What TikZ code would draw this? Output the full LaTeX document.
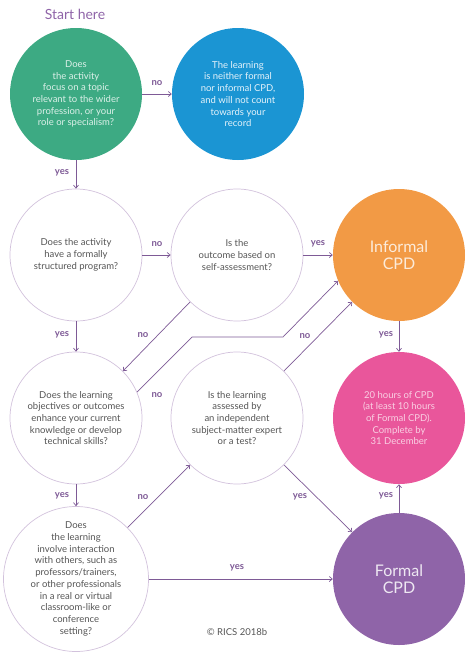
\documentclass[tikz,border=0pt]{standalone}
\usepackage{fontspec}
\setmainfont{Lato}
\usetikzlibrary{arrows.meta}
\definecolor{cgreen}{HTML}{3DAA83}
\definecolor{cblue}{HTML}{1B95D3}
\definecolor{corange}{HTML}{F29A45}
\definecolor{cpink}{HTML}{E9569B}
\definecolor{cpurple}{HTML}{8F64A8}
\definecolor{cline}{HTML}{7E5A96}
\definecolor{cring}{HTML}{D2C2DC}
\definecolor{ctext}{HTML}{555555}
\begin{document}
\begin{tikzpicture}[x=1pt,y=-1pt,
 circ/.style={circle,minimum size=132pt,inner sep=0pt,align=center,font=\fontsize{9.5}{11.7}\selectfont},
 qcirc/.style={circ,draw=cring,line width=0.7pt,text=ctext},
 fcirc/.style={circ,text=white},
 big/.style={font=\fontsize{16}{17.5}\selectfont},
 conn/.style={draw=cline,line width=0.7pt,-{Straight Barb[length=3pt,width=5pt]}},
 lab/.style={text=cline,font=\fontsize{9.5}{10}\selectfont\bfseries}]
\useasboundingbox (0,0) rectangle (474,654);
\node[text=cpurple,font=\fontsize{14}{16}\selectfont] (start) at (75,14) {Start here};
\node[fcirc,fill=cgreen,text=white!82!cgreen] (q1) at (76,94) {Does\\the activity\\focus on a topic\\relevant to the wider\\profession, or your\\role or specialism?};
\node[fcirc,fill=cblue,text=white!88!cblue] (nc) at (238,94) {The learning\\is neither formal\\nor informal CPD,\\and will not count\\towards your\\record};
\node[qcirc] (q2) at (76,255) {Does the activity\\have a formally\\structured program?};
\node[qcirc] (q3) at (237,255) {Is the\\outcome based on\\self-assessment?};
\node[fcirc,fill=corange,big,text=white!80!corange] (inf) at (399,255) {Informal\\CPD};
\node[qcirc] (q4) at (76,418) {Does the learning\\objectives or outcomes\\enhance your current\\knowledge or develop\\technical skills?};
\node[qcirc] (q5) at (237,418) {Is the learning\\assessed by\\an independent\\subject-matter expert\\or a test?};
\node[fcirc,fill=cpink,text=white!72!cpink] (hrs) at (399,418) {20 hours of CPD\\(at least 10 hours\\of Formal CPD).\\Complete by\\31 December};
\node[qcirc] (q6) at (76,579) {Does\\the learning\\involve interaction\\with others, such as\\professors/trainers,\\or other professionals\\in a real or virtual\\classroom-like or\\conference\\setting?};
\node[fcirc,fill=cpurple,big,text=white!85!cpurple] (form) at (399,579) {Formal\\CPD};
\node[text=ctext,font=\fontsize{9.5}{11}\selectfont] (copy) at (237,632) {© RICS 2018b};
\coordinate (b1) at (192,337);
\coordinate (b2) at (283,337);
\draw[conn] (q1) -- (nc);
\draw[conn] (q1) -- (q2);
\draw[conn] (q2) -- (q3);
\draw[conn] (q3) -- (inf);
\draw[conn] (q2) -- (q4);
\draw[conn] (q3.225) -- (q4.45);
\draw[conn] (q4.23) -- (b1) -- (b2) -- (inf.203);
\draw[conn] (q5.45) -- (inf.225);
\draw[conn] (inf) -- (hrs);
\draw[conn] (q4) -- (q6);
\draw[conn] (q6.45) -- (q5.225);
\draw[conn] (q5.-45) -- (form.135);
\draw[conn] (q6) -- (form);
\draw[conn] (form) -- (hrs);
\node[lab] (l1) at (157,83) {no};
\node[lab] (l2) at (62,173) {yes};
\node[lab] (l3) at (157,244) {no};
\node[lab] (l4) at (318,244) {yes};
\node[lab] (l5) at (62,335) {yes};
\node[lab] (l6) at (143,335) {no};
\node[lab] (l7) at (305,336) {no};
\node[lab] (l8) at (386,335) {yes};
\node[lab] (l9) at (157,395) {no};
\node[lab] (l10) at (62,496) {yes};
\node[lab] (l11) at (143,497) {no};
\node[lab] (l12) at (300,497) {yes};
\node[lab] (l13) at (386,496) {yes};
\node[lab] (l14) at (237,568) {yes};
\end{tikzpicture}
\end{document}
